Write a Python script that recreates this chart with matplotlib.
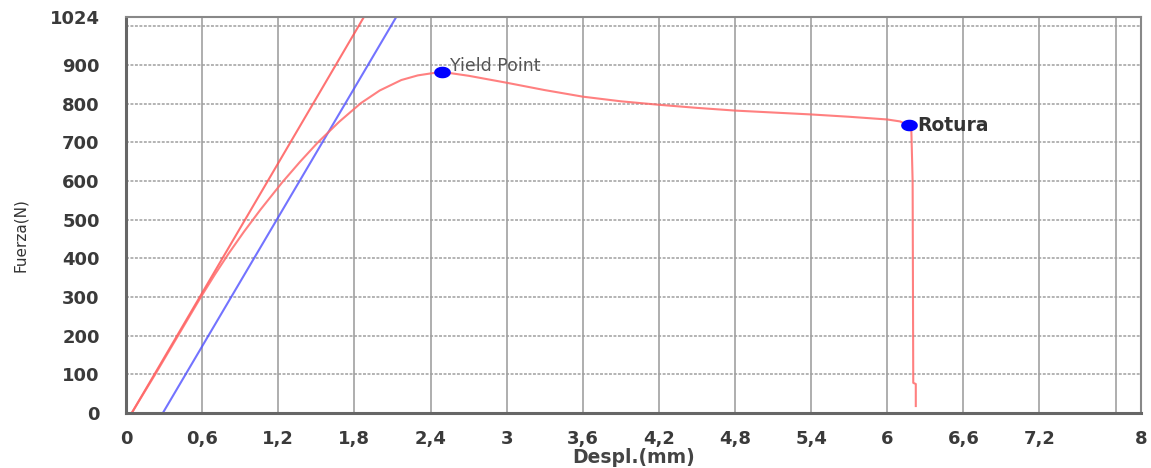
import matplotlib
matplotlib.use('Agg')
import matplotlib.pyplot as plt
import numpy as np

# curva fuerza-desplazamiento
despl = [0.045, 0.1, 0.23, 0.41, 0.59, 0.7, 0.81, 0.93, 1.06, 1.23,
         1.37, 1.51, 1.68, 1.85, 2.0, 2.17, 2.3, 2.4, 2.49, 2.7, 3.0, 3.3,
         3.6, 3.9, 4.2, 4.5, 4.8, 5.1, 5.4, 5.7, 6.0, 6.1, 6.17, 6.19, 6.2,
         6.205, 6.225, 6.225]
fuerza = [0, 30, 100, 200, 300, 358, 413, 469, 526, 596,
          649, 699, 753, 801, 834, 861, 873, 878, 882, 872, 854, 835,
          818, 806, 797, 789, 782, 777, 772, 766, 759, 754, 744, 730, 600,
          78, 75, 18]

# rectas de ajuste (pendiente elástica y paralela desplazada)
recta_roja_x = [0.045, 1.875]
recta_roja_y = [0, 1024]
recta_azul_x = [0.29, 2.13]
recta_azul_y = [0, 1024]

puntos = {'Yield Point': (2.49, 882), 'Rotura': (6.17, 744)}

xticks = [0, 0.6, 1.2, 1.8, 2.4, 3, 3.6, 4.2, 4.8, 5.4, 6, 6.6, 7.2, 8]
yticks = [0, 100, 200, 300, 400, 500, 600, 700, 800, 900, 1024]

fig = plt.figure(figsize=(11.51, 4.68), dpi=100)
ax = fig.add_axes([0.1095, 0.1175, 0.8818, 0.8462])

# rejilla
for gx in np.arange(0.6, 7.81, 0.6):
    ax.axvline(gx, color='#9a9a9a', lw=1.4, alpha=0.8, zorder=0)
for gy in range(100, 1001, 100):
    ax.axhline(gy, color='#a0a0a0', lw=1.4, ls=(0, (1.5, 0.8)), alpha=0.8, zorder=0)

ax.plot(recta_roja_x, recta_roja_y, color='#ff5050', lw=1.5, alpha=0.8)
ax.plot(recta_azul_x, recta_azul_y, color='#5050ff', lw=1.5, alpha=0.8)
ax.plot(despl, fuerza, color='#ff6a6a', lw=1.5, alpha=0.85)

# marcador elíptico
t = np.linspace(0, 2 * np.pi, 40)
elipse = list(zip(1.5 * np.cos(t), np.sin(t)))
for nombre, (px, py) in puntos.items():
    ax.plot(px, py, marker=elipse, ms=11, color='#0000ff', mec='#0000ff',
            ls='none', zorder=5)
ax.text(2.55, 897, 'Yield Point', fontsize=12.5, color='#555555', va='center')
ax.text(6.24, 744, 'Rotura', fontsize=13.5, color='#333333', va='center',
        fontweight='bold')

ax.set_xlim(0, 8)
ax.set_ylim(0, 1024)
ax.set_xticks(xticks)
ax.set_xticklabels([('%g' % v).replace('.', ',') for v in xticks])
ax.set_yticks(yticks)
ax.tick_params(length=0, labelsize=13, labelcolor='#3a3a3a')
ax.tick_params(axis='x', pad=12)
ax.tick_params(axis='y', pad=19)
for lab in ax.get_xticklabels() + ax.get_yticklabels():
    lab.set_fontweight('bold')

for s in ['left', 'bottom']:
    ax.spines[s].set_color('#666666')
    ax.spines[s].set_linewidth(2.2)
for s in ['top', 'right']:
    ax.spines[s].set_color('#888888')
    ax.spines[s].set_linewidth(1.5)

ax.set_xlabel('Despl.(mm)', fontsize=13.5, color='#444444', fontweight='bold')
ax.xaxis.set_label_coords(0.5, -0.088)
ax.set_ylabel('Fuerza(N)', fontsize=11, color='#333333')
ax.yaxis.set_label_coords(-0.097, 0.45)

plt.savefig('out.png', dpi=100)
